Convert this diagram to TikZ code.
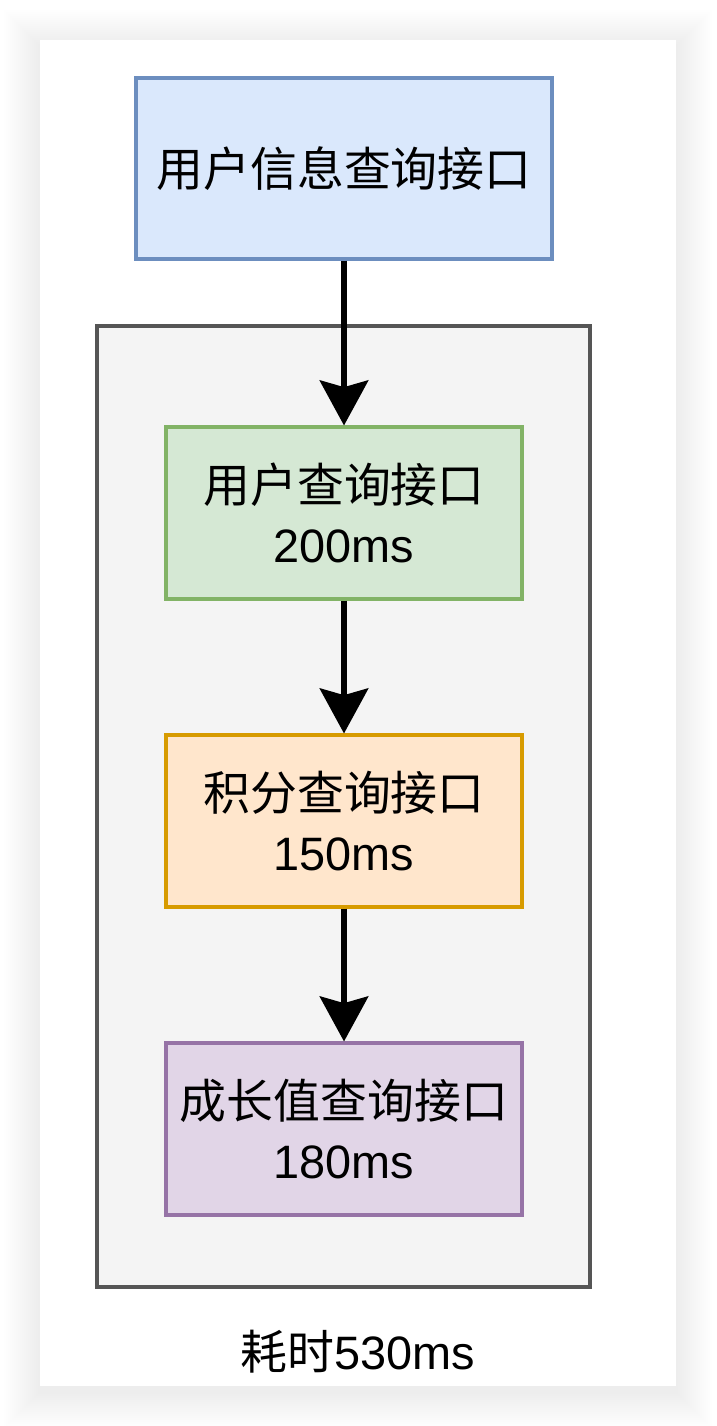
\documentclass[tikz,border=0pt]{standalone}
\usepackage{fontspec}
\setmainfont{Liberation Sans}
\newfontfamily\cjk{Noto Sans CJK SC}
\usetikzlibrary{arrows.meta, positioning}

\definecolor{blueFill}{HTML}{DAE8FC}
\definecolor{blueLine}{HTML}{6C8EBF}
\definecolor{greenFill}{HTML}{D5E8D4}
\definecolor{greenLine}{HTML}{82B366}
\definecolor{orangeFill}{HTML}{FFE6CC}
\definecolor{orangeLine}{HTML}{D79B00}
\definecolor{purpleFill}{HTML}{E1D5E7}
\definecolor{purpleLine}{HTML}{9673A6}
\definecolor{groupFill}{HTML}{F4F4F4}
\definecolor{groupLine}{HTML}{555555}

\begin{document}
\begin{tikzpicture}[x=0.03cm, y=-0.03cm]
		\tikzstyle{Node} = [rectangle, minimum width=10.68cm, minimum height=5.16cm, align=center, line width=2.6pt, font=\fontsize{40}{51}\selectfont]
		\tikzstyle{arrow} = [line width=5pt, -{Stealth[length=1.35cm, width=1.45cm, inset=0.2cm]}]
		
		\useasboundingbox (0,0) rectangle (716,1426);
		
		% card with soft shadow
		\foreach \i in {2,4,...,36}
			\fill [black, opacity=0.0045] (40-\i,40-\i+6) rectangle (676+\i,1386+\i+6);
		\fill [white] (40,40) rectangle (676,1386);
		
		\node (group) [draw=groupLine, fill=groupFill, line width=3pt, minimum width=14.79cm, minimum height=28.83cm] at (343.5,806.5) {};
		
		\node (main) [Node, draw=blueLine, fill=blueFill, minimum width=12.48cm, minimum height=5.43cm] at (344,168.5) {\cjk 用户信息查询接口};
		\node (user) [Node, draw=greenLine, fill=greenFill] at (344,513) {{\cjk 用户查询接口}\\200ms};
		\node (points) [Node, draw=orangeLine, fill=orangeFill] at (344,821) {{\cjk 积分查询接口}\\150ms};
		\node (growth) [Node, draw=purpleLine, fill=purpleFill] at (344,1129) {{\cjk 成长值查询接口}\\180ms};
		
		\node (total) [font=\fontsize{40}{51}\selectfont] at (358,1352) {{\cjk 耗时}530ms};
		
		\draw [arrow] (main) -- (user);
		\draw [arrow] (user) -- (points);
		\draw [arrow] (points) -- (growth);
\end{tikzpicture}
\end{document}
